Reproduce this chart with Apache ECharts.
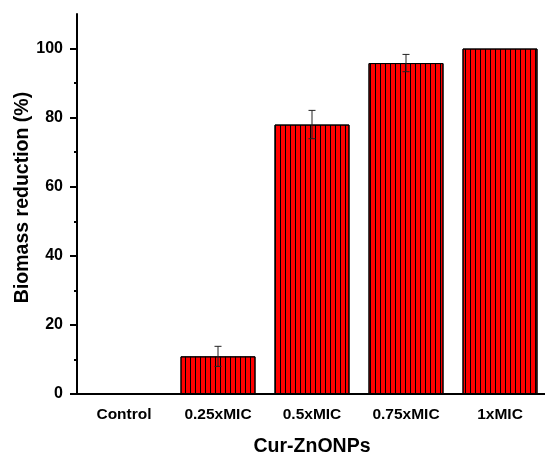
<!DOCTYPE html>
<html>
<head>
<meta charset="utf-8">
<script src="https://cdn.jsdelivr.net/npm/echarts@6/dist/echarts.min.js"></script>
<style>
  html, body { margin: 0; padding: 0; background: #fff; }
  #chart { width: 545px; height: 452px; }
</style>
</head>
<body>
<div id="chart"></div>
<script>
var categories = ['Control', '0.25xMIC', '0.5xMIC', '0.75xMIC', '1xMIC'];
var reduction = [0, 10.9, 78.0, 95.8, 100];
var errors = [0, 2.9, 4.1, 2.5, 0];
var majorTicks = [0, 20, 40, 60, 80, 100];
var minorTicks = [10, 30, 50, 70, 90];

var font = 'Liberation Sans, Arial, sans-serif';

// 误差棒数据
var errData = [];
for (var i = 0; i < categories.length; i++) {
  if (errors[i] > 0) {
    errData.push([i, reduction[i] - errors[i], reduction[i] + errors[i]]);
  }
}

var myChart = echarts.init(document.getElementById('chart'));
var option = {
  animation: false,
  grid: {
    left: 77, top: 14, right: -2, bottom: 58,
    containLabel: false, outerBoundsMode: 'none'
  },
  xAxis: {
    type: 'category',
    data: categories,
    name: 'Cur-ZnONPs',
    nameLocation: 'middle',
    nameGap: 43,
    nameMoveOverlap: false,
    nameTextStyle: { fontFamily: font, fontWeight: 'bold', fontSize: 19.5, color: '#000' },
    axisLine: { lineStyle: { color: '#000', width: 2 } },
    axisTick: { alignWithLabel: true, length: 6, lineStyle: { color: '#000', width: 2 } },
    axisLabel: { fontFamily: font, fontWeight: 'bold', fontSize: 15.5, color: '#000', margin: 13 }
  },
  yAxis: [{
    type: 'value',
    min: 0,
    max: 110,
    name: 'Biomass reduction (%)',
    nameLocation: 'middle',
    nameGap: 44,
    nameMoveOverlap: false,
    nameTextStyle: { fontFamily: font, fontWeight: 'bold', fontSize: 19.5, color: '#000', padding: [0, 0, 0, 13] },
    splitLine: { show: false },
    axisLine: { show: true, lineStyle: { color: '#000', width: 2 } },
    axisTick: { show: true, length: 7, customValues: majorTicks, lineStyle: { color: '#000', width: 2 } },
    axisLabel: { fontFamily: font, fontWeight: 'bold', fontSize: 16, color: '#000', margin: 14, customValues: majorTicks }
  }, {
    type: 'value',
    min: 0,
    max: 110,
    position: 'left',
    splitLine: { show: false },
    axisLine: { show: false },
    axisTick: { show: true, length: 3, customValues: minorTicks, lineStyle: { color: '#000', width: 2 } },
    axisLabel: { show: false }
  }],
  series: [{
    type: 'bar',
    data: reduction,
    barWidth: 75,
    itemStyle: {
      color: '#ff0000',
      borderColor: '#000',
      borderWidth: 1,
      decal: {
        symbol: 'rect',
        symbolSize: 1,
        symbolKeepAspect: false,
        dashArrayX: [1, 4],
        dashArrayY: [5, 0],
        rotation: 0,
        color: '#000'
      }
    }
  }, {
    type: 'custom',
    data: errData,
    z: 10,
    renderItem: function (params, api) {
      var x = api.value(0);
      var lo = api.coord([x, api.value(1)]);
      var hi = api.coord([x, api.value(2)]);
      var w = 3.5;
      var st = { stroke: '#222', lineWidth: 1 };
      return {
        type: 'group',
        children: [
          { type: 'line', shape: { x1: lo[0], y1: lo[1], x2: hi[0], y2: hi[1] }, style: st },
          { type: 'line', shape: { x1: hi[0] - w, y1: hi[1], x2: hi[0] + w, y2: hi[1] }, style: st },
          { type: 'line', shape: { x1: lo[0] - w, y1: lo[1], x2: lo[0] + w, y2: lo[1] }, style: st }
        ]
      };
    }
  }]
};
option && myChart.setOption(option);
</script>
</body>
</html>
